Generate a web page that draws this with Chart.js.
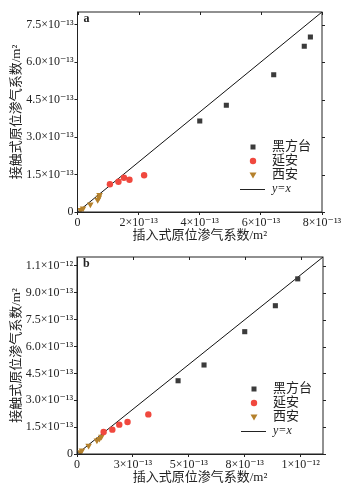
<!DOCTYPE html>
<html>
<head>
<meta charset="utf-8">
<script src="https://cdn.jsdelivr.net/npm/chart.js@4.4.0/dist/chart.umd.min.js"></script>
<style>
  html, body { margin: 0; padding: 0; background: #fff; }
  #wrap { position: relative; width: 344px; height: 489px; }
  canvas { position: absolute; left: 0; }
  #chartA { top: 0; }
  #chartB { top: 244px; }
</style>
</head>
<body>
<div id="wrap">
  <canvas id="chartA" width="344" height="245"></canvas>
  <canvas id="chartB" width="344" height="245"></canvas>
</div>
<script>
// all permeability values in units of 1e-13 m²
// x = 插入式 (probe), y = 接触式 (contact)

// panel a
const hfXa = [4.0, 4.87, 6.42, 7.42, 7.62];
const hfYa = [3.64, 4.27, 5.49, 6.63, 7.0];
const yaXa = [1.06, 1.34, 1.52, 1.70, 2.18];
const yaYa = [1.11, 1.21, 1.37, 1.29, 1.47];
const xaXa = [0.10, 0.18, 0.42, 0.66, 0.70, 0.72];
const xaYa = [0.08, 0.14, 0.30, 0.48, 0.58, 0.68];
const xTicksA = [0, 2, 4, 6, 8];
const xLabelsA = ['0', '2×10⁻¹³', '4×10⁻¹³', '6×10⁻¹³', '8×10⁻¹³'];
const yTicksA = [0, 1.5, 3, 4.5, 6, 7.5];
const yLabelsA = ['0', '1.5×10⁻¹³', '3.0×10⁻¹³', '4.5×10⁻¹³', '6.0×10⁻¹³', '7.5×10⁻¹³'];
const maxA = 8;

// panel b
const hfXb = [4.52, 5.68, 7.50, 8.87, 9.87];
const hfYb = [4.09, 4.97, 6.83, 8.28, 9.78];
const yaXb = [1.19, 1.58, 1.89, 2.26, 3.19];
const yaYb = [1.23, 1.36, 1.64, 1.79, 2.21];
const xaXb = [0.15, 0.22, 0.52, 0.89, 1.00, 1.09];
const xaYb = [0.11, 0.20, 0.46, 0.76, 0.85, 0.97];
const xTicksB = [0, 2.5, 5, 7.5, 10];
const xLabelsB = ['0', '3×10⁻¹³', '5×10⁻¹³', '8×10⁻¹³', '1×10⁻¹²'];
const yTicksB = [0, 1.5, 3, 4.5, 6, 7.5, 9, 10.5];
const yLabelsB = ['0', '1.5×10⁻¹³', '3.0×10⁻¹³', '4.5×10⁻¹³', '6.0×10⁻¹³', '7.5×10⁻¹³', '9.0×10⁻¹³', '1.1×10⁻¹²'];
const maxB = 11;

const seriesNames = ['黑方台', '延安', '西安'];
const lineName = 'y=x';
const xTitle = '插入式原位渗气系数/m²';
const yTitle = '接触式原位渗气系数/m²';

const SERIF = '"Liberation Serif", "DejaVu Serif", "Noto Sans CJK SC", serif';
const INK = '#222';
const COLORS = ['#3b3b3b', '#f0483e', '#b5812c'];

const pairs = (xs, ys) => xs.map((x, i) => ({ x, y: ys[i] }));

// frame, inward top/right ticks, axis titles, panel letter and legend
const decorPlugin = {
  id: 'decor',
  afterDraw(chart, args, opts) {
    const { ctx, chartArea: a, scales } = chart;
    ctx.save();
    ctx.strokeStyle = INK;
    ctx.lineWidth = 1;
    ctx.strokeRect(a.left, a.top, a.right - a.left, a.bottom - a.top);

    ctx.beginPath();
    scales.x.ticks.forEach(t => {
      const px = Math.round(scales.x.getPixelForValue(t.value)) + 0.5;
      ctx.moveTo(px, a.top); ctx.lineTo(px, a.top + 3);
    });
    scales.y.ticks.forEach(t => {
      const py = Math.round(scales.y.getPixelForValue(t.value)) + 0.5;
      ctx.moveTo(a.right, py); ctx.lineTo(a.right + 3, py);
    });
    ctx.stroke();

    ctx.fillStyle = INK;
    // panel letter
    ctx.font = 'bold 12px ' + SERIF;
    ctx.textAlign = 'left';
    ctx.textBaseline = 'middle';
    ctx.fillText(opts.letter, a.left + 6, a.top + 7);

    // axis titles
    ctx.font = '13px ' + SERIF;
    ctx.textAlign = 'center';
    ctx.fillText(xTitle, (a.left + a.right) / 2, a.bottom + 24);
    ctx.save();
    ctx.translate(17, (a.top + a.bottom) / 2);
    ctx.rotate(-Math.PI / 2);
    ctx.fillText(yTitle, 0, 0);
    ctx.restore();

    // legend
    const symX = a.right - 69, txtX = a.right - 50;
    const rows = [65, 51, 37, 23].map(d => a.bottom - d);
    ctx.textAlign = 'left';
    seriesNames.forEach((name, i) => {
      const y = rows[i];
      ctx.fillStyle = COLORS[i];
      ctx.beginPath();
      if (i === 0) {
        ctx.rect(symX - 2.5, y - 2.5, 5, 5);
      } else if (i === 1) {
        ctx.arc(symX, y, 3.2, 0, Math.PI * 2);
      } else {
        ctx.moveTo(symX - 3.5, y - 2.5);
        ctx.lineTo(symX + 3.5, y - 2.5);
        ctx.lineTo(symX, y + 3.5);
        ctx.closePath();
      }
      ctx.fill();
      ctx.fillStyle = INK;
      ctx.font = '13px ' + SERIF;
      ctx.fillText(name, txtX, y);
    });
    const ly = rows[3] + 0.5;
    ctx.beginPath();
    ctx.moveTo(a.right - 82, ly);
    ctx.lineTo(a.right - 57, ly);
    ctx.stroke();
    ctx.font = 'italic 12px ' + SERIF;
    ctx.fillText(lineName, txtX, rows[3]);
    ctx.restore();
  }
};

function makeChart(id, cfg) {
  const tickFont = { family: SERIF, size: 12 };
  return new Chart(document.getElementById(id), {
    type: 'scatter',
    data: {
      datasets: [
        {
          label: seriesNames[0], data: pairs(cfg.hfX, cfg.hfY),
          pointStyle: 'rect', pointRadius: 3.6, backgroundColor: COLORS[0], borderWidth: 0
        },
        {
          label: seriesNames[1], data: pairs(cfg.yaX, cfg.yaY),
          pointStyle: 'circle', pointRadius: 3.2, backgroundColor: COLORS[1], borderWidth: 0
        },
        {
          label: seriesNames[2], data: pairs(cfg.xaX, cfg.xaY),
          pointStyle: 'triangle', rotation: 180, pointRadius: 3.8, backgroundColor: COLORS[2], borderWidth: 0
        },
        {
          type: 'line', label: lineName,
          data: [{ x: 0, y: 0 }, { x: cfg.max, y: cfg.max }],
          borderColor: '#111', borderWidth: 1, pointRadius: 0, fill: false
        }
      ]
    },
    options: {
      responsive: false,
      animation: false,
      layout: { padding: { left: 0, top: cfg.top, right: cfg.right, bottom: 0 } },
      plugins: {
        legend: { display: false },
        tooltip: { enabled: false },
        decor: { letter: cfg.letter }
      },
      scales: {
        x: {
          type: 'linear', min: 0, max: cfg.max,
          afterBuildTicks: s => { s.ticks = cfg.xTicks.map(v => ({ value: v })); },
          afterFit: s => { s.height = cfg.xHeight; },
          grid: { drawOnChartArea: false, tickLength: 3, color: INK },
          border: { color: INK },
          ticks: {
            autoSkip: false, maxRotation: 0, padding: 1, color: INK, font: tickFont,
            callback: (v, i) => cfg.xLabels[i]
          }
        },
        y: {
          type: 'linear', min: 0, max: cfg.max,
          afterBuildTicks: s => { s.ticks = cfg.yTicks.map(v => ({ value: v })); },
          afterFit: s => { s.width = cfg.yWidth; },
          grid: { drawOnChartArea: false, tickLength: 3, color: INK },
          border: { color: INK },
          ticks: {
            autoSkip: false, padding: 1, color: INK, font: tickFont,
            callback: (v, i) => cfg.yLabels[i]
          }
        }
      }
    },
    plugins: [decorPlugin]
  });
}

makeChart('chartA', {
  letter: 'a', max: maxA,
  hfX: hfXa, hfY: hfYa, yaX: yaXa, yaY: yaYa, xaX: xaXa, xaY: xaYa,
  xTicks: xTicksA, xLabels: xLabelsA, yTicks: yTicksA, yLabels: yLabelsA,
  top: 12, right: 22, xHeight: 33, yWidth: 77.5
});

makeChart('chartB', {
  letter: 'b', max: maxB,
  hfX: hfXb, hfY: hfYb, yaX: yaXb, yaY: yaYb, xaX: xaXb, xaY: xaYb,
  xTicks: xTicksB, xLabels: xLabelsB, yTicks: yTicksB, yLabels: yLabelsB,
  top: 13, right: 21, xHeight: 35, yWidth: 77
});
</script>
</body>
</html>
